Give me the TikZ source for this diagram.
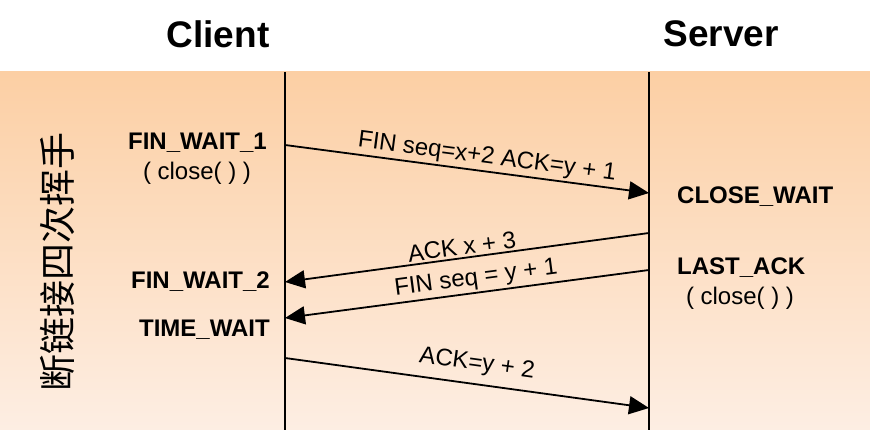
\documentclass[tikz,border=0pt]{standalone}
\usepackage{fontspec}
\setmainfont{Liberation Sans}
\newfontfamily\cjk{Noto Sans CJK SC}
\usepackage{tikz}
\usetikzlibrary{arrows.meta}
\usetikzlibrary{positioning}

\definecolor{peachtop}{RGB}{252,207,164}
\definecolor{peachbot}{RGB}{253,238,227}

\begin{document}
\begin{tikzpicture}[x=1pt,y=-1pt,
    title/.style={font=\fontsize{37}{40}\selectfont\bfseries,inner sep=0pt},
    state/.style={font=\fontsize{24}{28}\selectfont\bfseries,inner sep=0pt},
    call/.style={font=\fontsize{24}{28}\selectfont,inner sep=0pt},
    lbl/.style={font=\fontsize{24}{28}\selectfont,sloped,inner sep=2pt},
    life/.style={line width=2pt},
    msg/.style={line width=1.8pt,-{Triangle[length=20pt,width=18pt]}}]
          \useasboundingbox (0,0) rectangle (870,430);
          \shade[top color=peachtop,bottom color=peachbot] (0,72) rectangle (870,430);
          % heads
          \node[title] (client) at (218,34) {Client};
          \node[title] (server) at (721,34) {Server};
          \node[rotate=90,inner sep=0pt,font=\cjk\fontsize{37}{40}\selectfont] (caption) at (57,262) {断链接四次挥手};
          % life lines
          \draw[life] (285,72) coordinate (C0) -- (285,430) coordinate (Cn);
          \draw[life] (649,72) coordinate (S0) -- (649,430) coordinate (Sn);
          \coordinate (C1) at (285,145);
          \coordinate (S1) at (649,193);
          \coordinate (S2) at (649,233);
          \coordinate (C2) at (285,282);
          \coordinate (S3) at (649,270);
          \coordinate (C3) at (285,318);
          \coordinate (C4) at (285,358);
          \coordinate (S4) at (649,408);
          % states
          \node[state,anchor=east] (fw1) at (267,143) {FIN\_WAIT\_1};
          \node[call] (close1) at (197,173) {( close( ) )};
          \node[state,anchor=east] (fw2) at (270,282) {FIN\_WAIT\_2};
          \node[state,anchor=east] (tw) at (270,330) {TIME\_WAIT};
          \node[state,anchor=west] (cw) at (677,197) {CLOSE\_WAIT};
          \node[state,anchor=west] (la) at (677,268) {LAST\_ACK};
          \node[call] (close2) at (740,298) {( close( ) )};
          % messages
          \draw[msg] (C1) -- node[lbl,pos=0.55,above] {FIN seq=x+2 ACK=y + 1} (S1);
          \draw[msg] (S2) -- node[lbl,pos=0.51,above] {ACK x + 3} (C2);
          \draw[msg] (S3) -- node[lbl,pos=0.47,above] {FIN seq = y + 1} (C3);
          \draw[msg] (C4) -- node[lbl,pos=0.52,above=6pt] {ACK=y + 2} (S4);
        \end{tikzpicture}
\end{document}
